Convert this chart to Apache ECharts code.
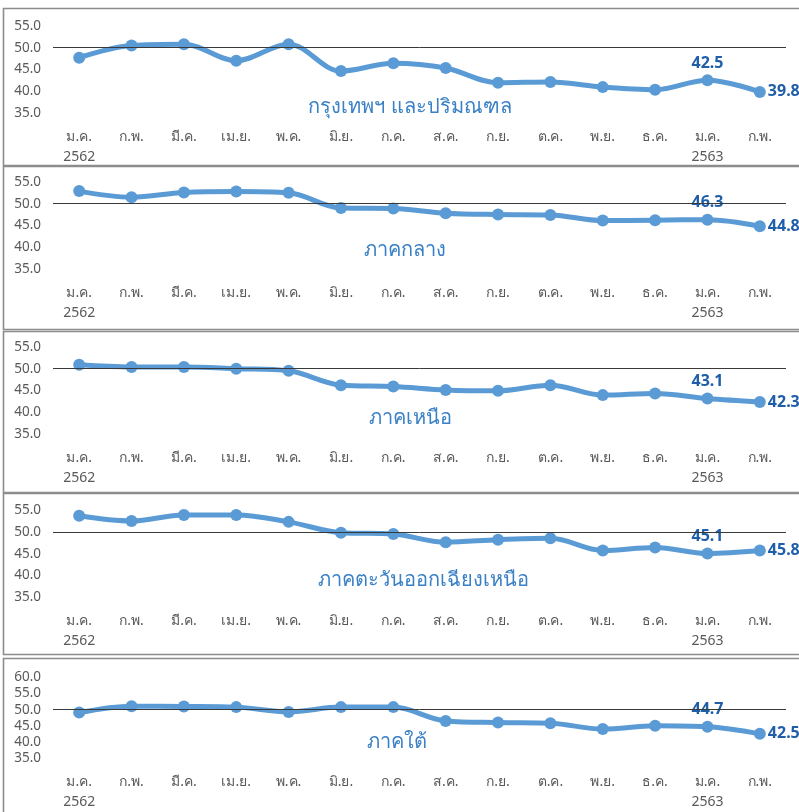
<!DOCTYPE html>
<html>
<head>
<meta charset="utf-8">
<script src="https://cdn.jsdelivr.net/npm/echarts@6/dist/echarts.min.js"></script>
<style>
html,body{margin:0;padding:0;background:#fff;}
#c{width:799px;height:812px;}
</style>
</head>
<body>
<div id="c"></div>
<script>
const categories = ['ม.ค.\n2562','ก.พ.','มี.ค.','เม.ย.','พ.ค.','มิ.ย.','ก.ค.','ส.ค.','ก.ย.','ต.ค.','พ.ย.','ธ.ค.','ม.ค.\n2563','ก.พ.'];
const regionNames = ['กรุงเทพฯ และปริมณฑล','ภาคกลาง','ภาคเหนือ','ภาคตะวันออกเฉียงเหนือ','ภาคใต้'];
const bkk       = [47.7, 50.5, 50.8, 47.0, 50.8, 44.6, 46.4, 45.3, 41.9, 42.1, 40.9, 40.3, 42.5, 39.8];
const central   = [52.9, 51.5, 52.6, 52.8, 52.5, 49.0, 48.9, 47.8, 47.5, 47.4, 46.1, 46.2, 46.3, 44.8];
const north     = [50.9, 50.4, 50.4, 50.0, 49.5, 46.2, 45.9, 45.1, 44.9, 46.2, 43.9, 44.3, 43.1, 42.3];
const northeast = [53.8, 52.6, 54.0, 54.0, 52.4, 49.9, 49.6, 47.7, 48.3, 48.6, 45.8, 46.5, 45.1, 45.8];
const south     = [49.1, 51.1, 51.0, 50.8, 49.3, 50.8, 50.8, 46.5, 46.0, 45.8, 44.0, 45.0, 44.7, 42.5];
const yMin = [35, 35, 35, 35, 35];
const yMax = [55, 55, 55, 55, 60];
const refValue = 50;

const seriesData = [bkk, central, north, northeast, south];

// layout (pixels)
const gridTop    = [26, 182, 347, 510.6, 677.5];
const gridHeight = [86.7, 86.7, 86.7, 86.7, 83.3];
const panels = [[6,157],[164,163],[329,161],[491,161],[656,170]];
const titlePos = [[410,107],[405,250],[410,418],[423,580],[397,742]];

const font = "'Noto Sans', 'DejaVu Sans', sans-serif";
const grids = [], xAxes = [], yAxes = [], series = [], graphics = [];

for (let i = 0; i < 5; i++) {
  grids.push({left: 53, right: 13, top: gridTop[i], height: gridHeight[i]});
  xAxes.push({
    type: 'category', gridIndex: i, data: categories, boundaryGap: true,
    axisLine: {show: false}, axisTick: {show: false},
    axisLabel: {color: '#595959', fontSize: 14, fontFamily: font, margin: 14, lineHeight: 20, interval: 0}
  });
  yAxes.push({
    type: 'value', gridIndex: i, min: yMin[i], max: yMax[i], interval: 5,
    splitLine: {show: false}, axisLine: {show: false}, axisTick: {show: false},
    axisLabel: {color: '#595959', fontSize: 13.5, fontFamily: font, margin: 12, formatter: v => v.toFixed(1)}
  });
  const arr = seriesData[i];
  const n = arr.length;
  series.push({
    type: 'line', xAxisIndex: i, yAxisIndex: i, smooth: 0.35,
    symbol: 'circle', symbolSize: 12,
    lineStyle: {color: '#5b9bd5', width: 5},
    itemStyle: {color: '#5b9bd5'},
    data: arr.map((v, j) => {
      const d = {value: v};
      if (j === n - 2) d.label = {show: true, position: 'top', distance: 3};
      if (j === n - 1) d.label = {show: true, position: 'right', distance: 2};
      return d;
    }),
    label: {show: false, color: '#1f5ea8', fontSize: 16, fontWeight: 'bold', fontFamily: font, formatter: p => p.value.toFixed(1)},
    markLine: {
      silent: true, symbol: 'none', animation: false,
      label: {show: false},
      lineStyle: {color: '#3a3a3a', width: 1, type: 'solid'},
      data: [{yAxis: refValue}]
    },
    z: 3
  });
  graphics.push({
    type: 'rect', left: 1, top: panels[i][0], z: 0,
    shape: {width: 830, height: panels[i][1]},
    style: {fill: 'none', stroke: '#8c8c8c', lineWidth: 1.6}
  });
  graphics.push({
    type: 'text', x: titlePos[i][0], y: titlePos[i][1], z: 10,
    style: {text: regionNames[i], fill: '#3a80c6', fontSize: 20, fontFamily: font, textAlign: 'center', textVerticalAlign: 'middle'}
  });
}

const chart = echarts.init(document.getElementById('c'));
chart.setOption({
  animation: false,
  backgroundColor: '#fff',
  grid: grids, xAxis: xAxes, yAxis: yAxes, series: series,
  graphic: graphics
});
</script>
</body>
</html>
